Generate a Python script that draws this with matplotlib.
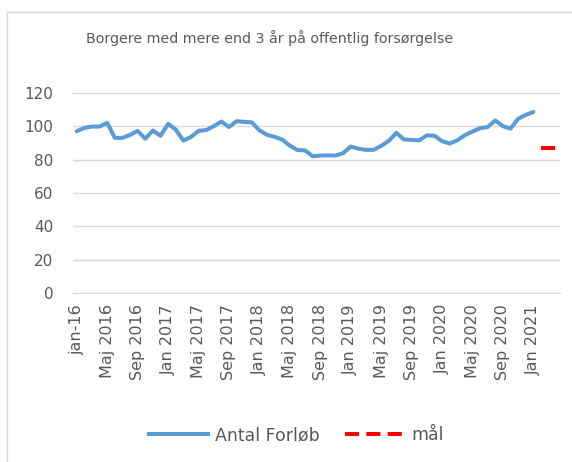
import numpy as np
import matplotlib.pyplot as plt
from matplotlib.lines import Line2D

# monthly values, jan 2016 .. jan 2021
antal = [97, 99, 99.8, 99.8, 102, 93, 93, 94.8, 97.2, 92.5,
         97.4, 94.2, 101.4, 98, 91.4, 93.5, 97.2, 97.7, 100, 102.8,
         99.5, 103, 102.6, 102.3, 97.5, 94.8, 93.6, 92, 88.3, 85.7,
         85.5, 82, 82.4, 82.5, 82.4, 83.8, 87.8, 86.5, 85.8, 85.8,
         88.2, 91.2, 96, 92, 91.8, 91.5, 94.5, 94.3, 91, 89.6,
         91.5, 94.6, 96.8, 98.8, 99.5, 103.5, 100, 98.5, 104.5, 106.8,
         108.5]
maal = [87, 87, 87]  # feb .. apr 2021
maal_start = 61
n_cat = 64

tick_labels = ["jan-16", "Maj 2016", "Sep 2016", "Jan 2017", "Maj 2017", "Sep 2017",
               "Jan 2018", "Maj 2018", "Sep 2018", "Jan 2019", "Maj 2019", "Sep 2019",
               "Jan 2020", "Maj 2020", "Sep 2020", "Jan 2021"]

grey = "#595959"
blue = "#5B9BD5"
red = "#FF0000"
dash = (0, (3.5, 1.8))

fig = plt.figure(figsize=(5.72, 4.62), dpi=100)
ax = fig.add_axes([0.1276, 0.366, 0.979 - 0.1276, 0.799 - 0.366])

x = np.arange(len(antal))
ax.plot(x, antal, color=blue, lw=2.9, solid_capstyle="round")
xm = np.arange(maal_start, maal_start + len(maal))
ax.plot(xm, maal, color=red, lw=2.9, ls=dash)

ax.set_xlim(-0.5, n_cat - 0.5)
ax.set_ylim(0, 120)
ax.set_yticks(range(0, 121, 20))
ax.set_xticks(range(0, len(tick_labels) * 4, 4))
ax.set_xticklabels(tick_labels, rotation=90)
ax.tick_params(length=0, colors=grey)
ax.tick_params(axis="y", labelsize=11, pad=14)
ax.tick_params(axis="x", labelsize=11.5, pad=8)
ax.grid(axis="y", color="#d9d9d9", lw=1)
ax.set_axisbelow(True)
for s in ["top", "right", "left"]:
    ax.spines[s].set_visible(False)
ax.spines["bottom"].set_color("#d9d9d9")

fig.text(0.472, 0.918, "Borgere med mere end 3 år på offentlig forsørgelse",
         ha="center", va="center", fontsize=10.3, color=grey)

handles = [Line2D([], [], color=blue, lw=2.9),
           Line2D([], [], color=red, lw=2.9, ls=dash)]
fig.legend(handles, ["Antal Forløb", "mål"], loc="center", bbox_to_anchor=(0.518, 0.058),
           ncol=2, frameon=False, fontsize=12.5, labelcolor=grey, handlelength=3.4,
           columnspacing=1.5, handletextpad=0.4)

# border at left and top
fig.add_artist(Line2D([7 / 572, 7 / 572], [0, 1 - 12 / 462], color="#d9d9d9", lw=1))
fig.add_artist(Line2D([7 / 572, 1], [1 - 12 / 462, 1 - 12 / 462], color="#d9d9d9", lw=1))

fig.savefig("out.png", dpi=100)
